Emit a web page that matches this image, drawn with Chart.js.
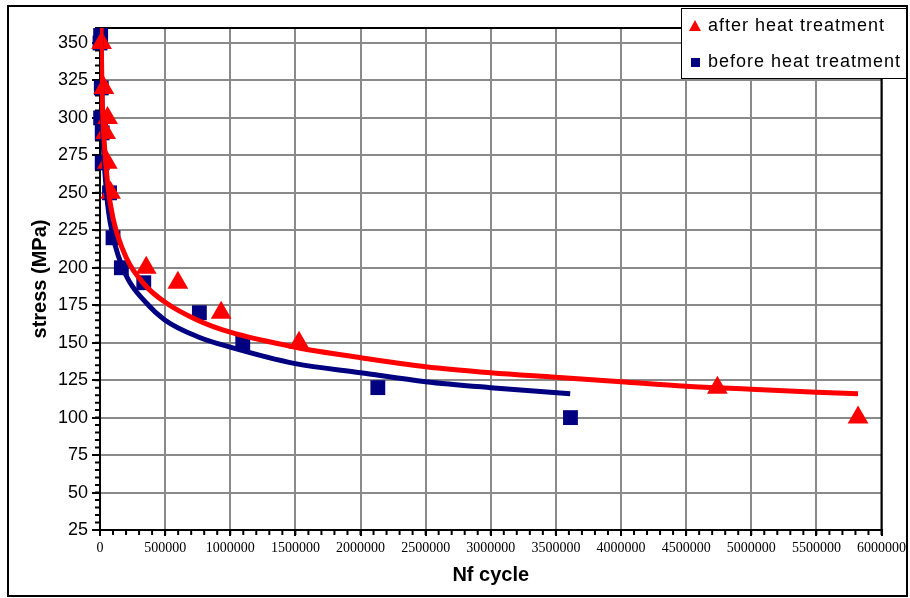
<!DOCTYPE html>
<html>
<head>
<meta charset="utf-8">
<script src="https://cdn.jsdelivr.net/npm/chart.js@4"></script>
<style>
  html, body { margin: 0; padding: 0; background: #fff; }
  #wrap { width: 910px; height: 598px; }
</style>
</head>
<body>
<div id="wrap"><canvas id="chart" width="910" height="598"></canvas></div>
<script>
var afterCycles = [12000, 30000, 58000, 43000, 56000, 81000, 355000, 598000, 930000, 1528000, 4740000, 5820000];
var afterStress = [350, 320, 300, 290, 270, 250, 200, 190, 170, 150, 120, 100];

var beforeCycles = [0, 5000, 10000, 5000, 17000, 17000, 73000, 100000, 164000, 336000, 763000, 1096000, 2133000, 3612000];
var beforeStress = [350, 355, 320, 300, 290, 270, 250, 220, 200, 190, 170, 150, 120, 100];

// trend curves
var afterTrendCycles = [8000, 15000, 30000, 60000, 100000, 200000, 350000, 500000, 750000, 1000000, 1500000, 2000000, 2500000, 3000000, 3500000, 4000000, 4500000, 5000000, 5500000, 5820000];
var afterTrendStress = [362, 320, 287, 255, 233, 207, 188, 177, 165, 157, 147, 140, 134, 130, 127, 124, 121, 119, 117, 116];

var beforeTrendCycles = [6000, 12000, 20000, 50000, 100000, 200000, 350000, 500000, 750000, 1000000, 1500000, 2000000, 2500000, 3000000, 3610000];
var beforeTrendStress = [365, 325, 295, 250, 221, 195, 177, 165, 154, 147, 136, 130, 124, 120, 116];

var xTickStep = 500000;
var yTickStep = 25;

function pairs(xs, ys){
    var out = [];
    for(var i = 0; i < xs.length; i++) out.push({x: xs[i], y: ys[i]});
    return out;
}

var RED = '#ff0000';
var NAVY = '#000080';

// minor ticks, plot border, outer frame, legend
var decor = {
    id: 'decor',
    beforeDatasetsDraw: function(chart){
        var ctx = chart.ctx, a = chart.chartArea;
        var xs = chart.scales.x, ys = chart.scales.y;
        ctx.save();
        ctx.strokeStyle = '#000';
        ctx.lineWidth = 2;
        ctx.strokeRect(a.left, a.top, a.right - a.left, a.bottom - a.top);
        ctx.beginPath();
        for(var v = 0; v <= 6000000; v += 100000){
            var px = xs.getPixelForValue(v);
            ctx.moveTo(px, a.bottom); ctx.lineTo(px, a.bottom + 5);
        }
        for(var w = 25; w <= 360; w += 5){
            var py = ys.getPixelForValue(w);
            ctx.moveTo(a.left - 5, py); ctx.lineTo(a.left, py);
        }
        ctx.stroke();
        ctx.restore();
    },
    afterDraw: function(chart){
        var ctx = chart.ctx;
        ctx.save();
        // outer frame
        ctx.strokeStyle = '#000';
        ctx.lineWidth = 2;
        ctx.strokeRect(8, 6, 899, 590);
        // legend box
        ctx.fillStyle = '#fff';
        ctx.fillRect(681, 8, 226, 71);
        ctx.lineWidth = 1;
        ctx.strokeRect(681.5, 8.5, 225, 70);
        // markers
        ctx.fillStyle = RED;
        ctx.beginPath();
        ctx.moveTo(695, 20); ctx.lineTo(701, 31); ctx.lineTo(689, 31); ctx.closePath();
        ctx.fill();
        ctx.fillStyle = NAVY;
        ctx.fillRect(691, 58, 9, 9);
        // text
        ctx.fillStyle = '#000';
        ctx.font = '18px "Liberation Sans", Arial, sans-serif';
        if('letterSpacing' in ctx) ctx.letterSpacing = '1px';
        ctx.textBaseline = 'middle';
        ctx.textAlign = 'left';
        ctx.fillText('after heat treatment', 708, 26);
        ctx.fillText('before heat treatment', 708, 62);
        ctx.restore();
    }
};

new Chart(document.getElementById('chart').getContext('2d'), {
    type: 'scatter',
    data: {
        datasets: [
            {
                label: 'after heat treatment trend',
                type: 'line',
                data: pairs(afterTrendCycles, afterTrendStress),
                borderColor: RED,
                borderWidth: 5,
                pointRadius: 0,
                cubicInterpolationMode: 'monotone',
                fill: false,
                order: 0
            },
            {
                label: 'before heat treatment trend',
                type: 'line',
                data: pairs(beforeTrendCycles, beforeTrendStress),
                borderColor: NAVY,
                borderWidth: 5,
                pointRadius: 0,
                cubicInterpolationMode: 'monotone',
                fill: false,
                order: 0
            },
            {
                label: 'after heat treatment',
                data: pairs(afterCycles, afterStress),
                pointStyle: 'triangle',
                pointRadius: 12,
                backgroundColor: RED,
                borderColor: RED,
                borderWidth: 0,
                clip: false,
                order: 1
            },
            {
                label: 'before heat treatment',
                data: pairs(beforeCycles, beforeStress),
                pointStyle: 'rect',
                pointRadius: 10.5,
                backgroundColor: NAVY,
                borderColor: NAVY,
                borderWidth: 0,
                clip: false,
                order: 2
            }
        ]
    },
    options: {
        responsive: false,
        animation: false,
        events: [],
        layout: { padding: { left: 0, top: 28, right: 27, bottom: 0 } },
        plugins: { legend: { display: false }, tooltip: { enabled: false } },
        scales: {
            x: {
                type: 'linear',
                min: 0,
                max: 6000000,
                afterFit: function(s){ s.height = 68; },
                border: { color: '#000', width: 2 },
                grid: { color: '#8a8a8a', lineWidth: 2, tickColor: '#000', tickLength: 6, tickWidth: 2 },
                ticks: {
                    stepSize: xTickStep,
                    maxRotation: 0,
                    autoSkip: false,
                    padding: 4,
                    color: '#000',
                    font: { family: '"Liberation Serif", "Times New Roman", serif', size: 14 },
                    callback: function(v){ return String(v); }
                },
                title: {
                    display: true,
                    text: 'Nf cycle',
                    color: '#000',
                    font: { family: '"Liberation Sans", Arial, sans-serif', size: 20, weight: 'bold' },
                    padding: { top: 0, bottom: 11 }
                }
            },
            y: {
                type: 'linear',
                min: 25,
                max: 360,
                afterFit: function(s){ s.width = 100; },
                border: { color: '#000', width: 2 },
                grid: { color: '#8a8a8a', lineWidth: 2, tickColor: '#000', tickLength: 8, tickWidth: 2 },
                ticks: {
                    stepSize: yTickStep,
                    includeBounds: false,
                    padding: 4,
                    color: '#000',
                    font: { family: '"Liberation Sans", Arial, sans-serif', size: 18 }
                },
                title: {
                    display: true,
                    text: 'stress (MPa)',
                    color: '#000',
                    font: { family: '"Liberation Sans", Arial, sans-serif', size: 20, weight: 'bold' },
                    padding: { top: 28, bottom: 0 }
                }
            }
        }
    },
    plugins: [decor]
});
</script>
</body>
</html>
